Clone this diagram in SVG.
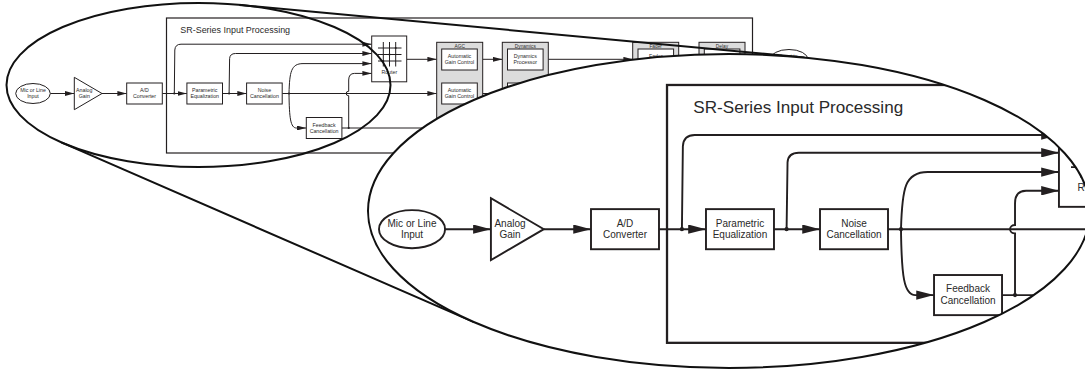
<svg xmlns="http://www.w3.org/2000/svg" xmlns:xlink="http://www.w3.org/1999/xlink" width="1085" height="370" viewBox="0 0 1085 370">
<style>
.bx{fill:#fff;stroke:#231f20;stroke-width:1}
.gb{fill:#dcdcdc;stroke:#231f20;stroke-width:1}
.w{fill:none;stroke:#231f20;stroke-width:1}
.wa{fill:none;stroke:#231f20;stroke-width:1;marker-end:url(#ah)}
.dot{fill:#231f20}
.t{font-family:"Liberation Sans",Arial,sans-serif;font-size:5.25px;fill:#2a2a2a;text-anchor:middle}
.tl{font-family:"Liberation Sans",Arial,sans-serif;font-size:4.8px;fill:#2a2a2a;text-anchor:middle}
.tt{font-family:"Liberation Sans",Arial,sans-serif;font-size:8.95px;fill:#2a2a2a}
.mag{fill:none;stroke:#111;stroke-width:2}
</style>
<defs>
<marker id="ah" markerUnits="userSpaceOnUse" markerWidth="9.3" markerHeight="4.9" refX="9.3" refY="2.45" orient="auto" viewBox="0 0 9.3 4.9">
<path d="M0,0 L9.3,2.45 L0,4.9 z" fill="#231f20"/>
</marker>
<clipPath id="clipBig" clipPathUnits="userSpaceOnUse">
<ellipse cx="729" cy="211" rx="361" ry="157"/>
</clipPath>
</defs>

<g id="diagram">
  <g id="sr-box">
    <rect x="166.5" y="18" width="586" height="135" fill="none" stroke="#231f20" stroke-width="1.2"/>
    <text class="tt" x="180.3" y="32.8">SR-Series Input Processing</text>
  </g>
  <g id="connectors">
    <path class="wa" d="M50.3,93.5 H74.3"/>
    <path class="wa" d="M102,93.5 H126.7"/>
    <path class="wa" d="M162.3,93.5 H186.9"/>
    <path class="wa" d="M174.3,93.5 L174.8,50 Q175.2,44.2 181,44.2 H371.7"/>
    <path class="wa" d="M222.5,93.5 H246.6"/>
    <path class="wa" d="M229.1,93.5 L229.6,58.5 Q230,53.5 235.5,53.5 H371.7"/>
    <path class="wa" d="M282.2,93.5 H436.7"/>
    <path class="wa" d="M289,93.5 C289.6,72 291,63.6 303,63.6 H371.7"/>
    <path class="wa" d="M289,93.5 C289.3,118 290.5,128 296.5,128 H306.3"/>
    <path class="wa" d="M341.9,128 H436.7"/>
    <path class="wa" d="M348.7,128 V95.7 A2.6,2.2 0 0 1 348.7,91.3 V80 Q348.7,73.4 354.5,73.4 H371.7"/>
    <path class="wa" d="M406.7,59.3 H436.7"/>
    <path class="wa" d="M482.7,59.3 H502.3"/>
    <path class="wa" d="M482.7,93.5 H502.3"/>
    <path class="wa" d="M548.3,59.3 H632.7"/>
    <path class="wa" d="M678.7,59.3 H699"/>
    <path class="wa" d="M745,59.3 H770"/>
    <circle class="dot" cx="174.3" cy="93.5" r="1.1"/>
    <circle class="dot" cx="229.1" cy="93.5" r="1.1"/>
    <circle class="dot" cx="289" cy="93.5" r="1.1"/>
    <circle class="dot" cx="348.7" cy="128" r="1.1"/>
  </g>
  <g id="mic-input">
    <ellipse class="bx" cx="33" cy="93.5" rx="17.3" ry="10"/>
    <text class="t" x="33" y="92.1">Mic or Line</text>
    <text class="t" x="33" y="98">Input</text>
  </g>
  <g id="analog-gain">
    <polygon class="bx" points="74.3,77.3 74.3,109.7 102,93.5"/>
    <text class="t" x="84.3" y="92.1">Analog</text>
    <text class="t" x="84.3" y="98">Gain</text>
  </g>
  <g id="ad-converter">
    <rect class="bx" x="126.7" y="83" width="35.6" height="21"/>
    <text class="t" x="144.5" y="92.1">A/D</text>
    <text class="t" x="144.5" y="98">Converter</text>
  </g>
  <g id="parametric-eq">
    <rect class="bx" x="186.9" y="83" width="35.6" height="21"/>
    <text class="t" x="204.7" y="92.1">Parametric</text>
    <text class="t" x="204.7" y="98">Equalization</text>
  </g>
  <g id="noise-cancellation">
    <rect class="bx" x="246.6" y="83" width="35.6" height="21"/>
    <text class="t" x="264.4" y="92.1">Noise</text>
    <text class="t" x="264.4" y="98">Cancellation</text>
  </g>
  <g id="feedback-cancellation">
    <rect class="bx" x="306.3" y="117.5" width="35.6" height="21"/>
    <text class="t" x="324.1" y="126.6">Feedback</text>
    <text class="t" x="324.1" y="132.5">Cancellation</text>
  </g>
  <g id="router">
    <rect class="bx" x="371.7" y="36" width="35" height="45.8"/>
    <path class="w" d="M383.3,42 V66.5 M389.5,42 V66.5 M395.7,42 V66.5 M378,48 H401.5 M378,54.5 H401.5 M378,61 H401.5"/>
    <circle class="dot" cx="395.7" cy="48" r="1"/>
    <circle class="dot" cx="389.5" cy="54.5" r="1"/>
    <circle class="dot" cx="383.3" cy="61" r="1"/>
    <text class="t" x="389.3" y="73.6">Router</text>
  </g>
  <g id="agc">
    <rect class="gb" x="436.7" y="42.3" width="46" height="100"/>
    <text class="tl" x="459.7" y="47.5">AGC</text>
    <rect class="bx" x="441.7" y="49" width="35.6" height="21"/>
    <text class="t" x="459.5" y="58.1">Automatic</text>
    <text class="t" x="459.5" y="64">Gain Control</text>
    <rect class="bx" x="441.7" y="83" width="35.6" height="21"/>
    <text class="t" x="459.5" y="92.1">Automatic</text>
    <text class="t" x="459.5" y="98">Gain Control</text>
  </g>
  <g id="dynamics">
    <rect class="gb" x="502.3" y="42.3" width="46" height="100"/>
    <text class="tl" x="525.3" y="47.5">Dynamics</text>
    <rect class="bx" x="507.5" y="49" width="35.6" height="21"/>
    <text class="t" x="525.3" y="58.1">Dynamics</text>
    <text class="t" x="525.3" y="64">Processor</text>
    <rect class="bx" x="507.5" y="83" width="35.6" height="21"/>
  </g>
  <g id="fader">
    <rect class="gb" x="632.7" y="42.3" width="46" height="100"/>
    <text class="tl" x="655.7" y="47.5">Fader</text>
    <rect class="bx" x="638" y="49" width="35.6" height="21"/>
    <text class="t" x="655.8" y="58.1">Fader</text>
  </g>
  <g id="delay">
    <rect class="gb" x="699" y="42.3" width="46" height="100"/>
    <text class="tl" x="722" y="47.5">Delay</text>
    <rect class="bx" x="704.3" y="49" width="35.6" height="21"/>
  </g>
  <g id="input-to">
    <ellipse class="bx" cx="789" cy="59.5" rx="19" ry="10"/>
    <text class="t" x="789" y="58.1">Input to</text>
  </g>
</g>

<g id="magnifier">
  <ellipse class="mag" cx="198.5" cy="85" rx="192" ry="82"/>
  <path class="mag" d="M239.4,4.9 L804.5,57.5 M61.4,142.4 L473.5,321.9"/>
  <ellipse cx="729" cy="211" rx="361" ry="157" fill="#fff" stroke="none"/>
  <g clip-path="url(#clipBig)">
    <use href="#diagram" xlink:href="#diagram" transform="translate(349 50.6) scale(1.91)"/>
  </g>
  <ellipse class="mag" cx="729" cy="211" rx="361" ry="157"/>
</g>
</svg>
